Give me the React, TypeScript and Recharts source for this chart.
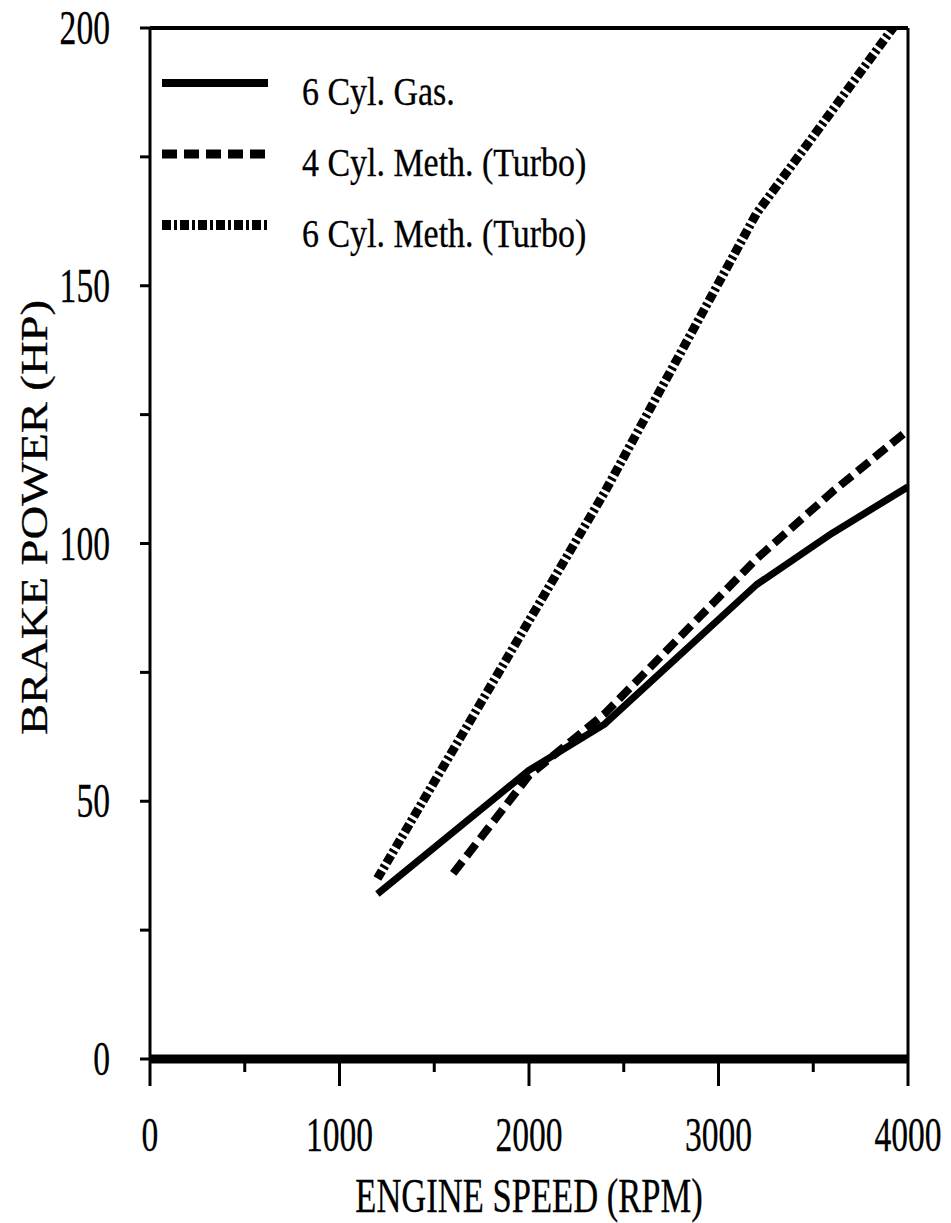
import { Label, Legend, Line, LineChart, XAxis, YAxis } from "recharts";

// engine speed (rpm) and brake power (hp)
const gasRpm = [1200, 2000, 2400, 3200, 3600, 4000];
const gasHp = [32, 56, 65, 92, 102, 111];

const meth4Rpm = [1600, 2000, 2400, 3200, 3600, 4000];
const meth4Hp = [36, 55, 67, 97, 110, 122];

const meth6Rpm = [1200, 2000, 2400, 3200, 3600, 4000];
const meth6Hp = [35, 85, 110, 164, 184, 204];

const seriesNames = ["6 Cyl. Gas.", "4 Cyl. Meth. (Turbo)", "6 Cyl. Meth. (Turbo)"];

const xTicks = [0, 500, 1000, 1500, 2000, 2500, 3000, 3500, 4000];
const yTicks = [0, 25, 50, 75, 100, 125, 150, 175, 200];

const FONT = '"Liberation Serif", "Times New Roman", serif';

const styles: Record<string, { dash?: string; width: number }> = {
  "6 Cyl. Gas.": { width: 7 },
  "4 Cyl. Meth. (Turbo)": { dash: "15 7", width: 8 },
  "6 Cyl. Meth. (Turbo)": { dash: "9 3 3 3", width: 9 },
};

const toRows = (rpm: number[], hp: number[]) => rpm.map((r, i) => ({ rpm: r, hp: hp[i] }));

const textProps = {
  fontFamily: FONT,
  fill: "#000",
  stroke: "#000",
  strokeWidth: 0.3,
};

const XTick = (props: any) => {
  const { x, y, payload } = props;
  const major = payload.value % 1000 === 0;
  const label = String(payload.value);
  return (
    <g>
      <line x1={x} x2={x} y1={y} y2={y + (major ? 27 : 13)} stroke="#000" strokeWidth={3} />
      {major && (
        <text
          transform={`translate(${x} ${y + 92}) scale(0.7 1)`}
          textAnchor="middle"
          fontSize={48}
          {...textProps}
        >
          {label}
        </text>
      )}
    </g>
  );
};

const YTick = (props: any) => {
  const { x, y, payload } = props;
  const major = payload.value % 50 === 0;
  return (
    <g>
      <line x1={x - 10} x2={x} y1={y} y2={y} stroke="#000" strokeWidth={3} />
      {major && (
        <text
          transform={`translate(${x - 40} ${y + 16}) scale(0.7 1)`}
          textAnchor="end"
          fontSize={48}
          {...textProps}
        >
          {payload.value}
        </text>
      )}
    </g>
  );
};

const renderLegend = (props: any) => {
  const present = new Set((props.payload || []).map((p: any) => p.value));
  const items = seriesNames.filter((n) => present.has(n));
  return (
    <svg width={460} height={220}>
      {items.map((name, i) => {
        const s = styles[name];
        const base = 55 + i * 71;
        return (
          <g key={name}>
            <line
              x1={7}
              x2={113}
              y1={base - 22}
              y2={base - 22}
              stroke="#000"
              strokeWidth={s.width + 1}
              strokeDasharray={s.dash}
            />
            <text
              transform={`translate(147 ${base}) scale(0.87 1)`}
              fontSize={39}
              {...textProps}
            >
              {name}
            </text>
          </g>
        );
      })}
    </svg>
  );
};

export default function App() {
  const data = [toRows(gasRpm, gasHp), toRows(meth4Rpm, meth4Hp), toRows(meth6Rpm, meth6Hp)];
  return (
    <div style={{ position: "absolute", left: 0, top: 0, background: "#fff" }}>
      <LineChart width={951} height={1223} margin={{ top: 27, right: 42, bottom: 163, left: 0 }}>
        <XAxis
          type="number"
          dataKey="rpm"
          domain={[0, 4000]}
          ticks={xTicks}
          interval={0}
          tick={<XTick />}
          tickSize={0}
          tickMargin={0}
          tickLine={false}
          axisLine={{ stroke: "#000", strokeWidth: 9 }}
          height={1}
          allowDataOverflow
        >
          <Label
            content={(p: any) => {
              const vb = p.viewBox;
              return (
                <text
                  transform={`translate(${vb.x + vb.width / 2} ${vb.y + 153}) scale(0.72 1)`}
                  textAnchor="middle"
                  fontSize={48}
                  {...textProps}
                >
                  ENGINE SPEED (RPM)
                </text>
              );
            }}
          />
        </XAxis>
        <XAxis
          xAxisId="top"
          orientation="top"
          type="number"
          domain={[0, 4000]}
          tick={false}
          tickLine={false}
          axisLine={{ stroke: "#000", strokeWidth: 4 }}
          height={1}
        />
        <YAxis
          type="number"
          domain={[0, 200]}
          ticks={yTicks}
          interval={0}
          tick={<YTick />}
          tickSize={0}
          tickMargin={0}
          tickLine={false}
          axisLine={{ stroke: "#000", strokeWidth: 3 }}
          width={150}
          allowDataOverflow
        >
          <Label
            content={(p: any) => {
              const vb = p.viewBox;
              const cx = vb.x + 34;
              const cy = vb.y + vb.height / 2 - 26;
              return (
                <text
                  transform={`translate(${cx} ${cy}) rotate(-90)`}
                  textAnchor="middle"
                  dominantBaseline="central"
                  fontSize={38}
                  textLength={435}
                  lengthAdjust="spacingAndGlyphs"
                  {...textProps}
                >
                  BRAKE POWER (HP)
                </text>
              );
            }}
          />
        </YAxis>
        <YAxis
          yAxisId="right"
          orientation="right"
          type="number"
          domain={[0, 200]}
          tick={false}
          tickLine={false}
          axisLine={{ stroke: "#000", strokeWidth: 3 }}
          width={1}
        />
        {seriesNames.map((name, i) => (
          <Line
            key={name}
            data={data[i]}
            dataKey="hp"
            name={name}
            type="linear"
            stroke="#000"
            strokeWidth={styles[name].width}
            strokeDasharray={styles[name].dash}
            strokeLinejoin="round"
            dot={false}
            activeDot={false}
            legendType="line"
            isAnimationActive={false}
          />
        ))}
        <Legend
          layout="horizontal"
          align="center"
          verticalAlign="middle"
          content={renderLegend}
          wrapperStyle={{ top: 50, left: 155, width: 460, height: 220 }}
        />
      </LineChart>
    </div>
  );
}
